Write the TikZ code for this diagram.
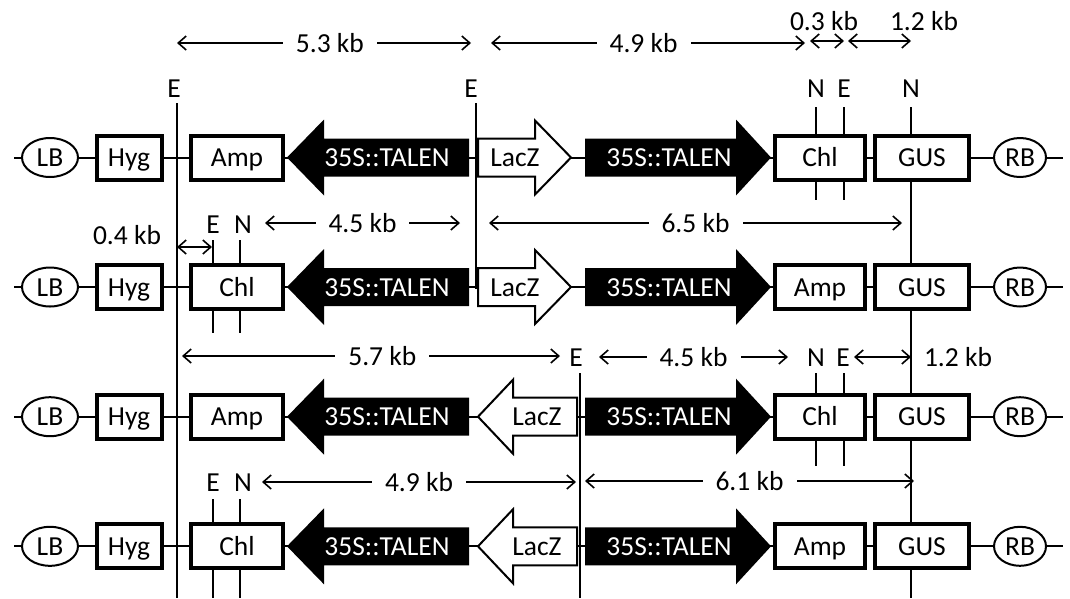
\documentclass[tikz,border=0pt]{standalone}
\usepackage{fontspec}
\setmainfont{Carlito}
\usetikzlibrary{shapes.geometric,arrows.meta}
\newcommand\DrawRow[4]{% #1 id, #2 y, #3 left box, #4 right box
  \coordinate (bbL#1) at (14,#2);
  \coordinate (bbR#1) at (1063,#2);
  \draw[backbone] (bbL#1) -- (bbR#1);
  \node[bord, minimum width=56pt] (lb#1) at (50,#2) {LB};
  \node[bord, minimum width=52pt] (rb#1) at (1020,#2) {RB};
  \node[gbox, minimum width=65pt] (hyg#1) at (129,#2) {Hyg};
  \node[gbox, minimum width=92pt] (lft#1) at (237,#2) {#3};
  \node[gbox, minimum width=90pt] (rgt#1) at (820,#2) {#4};
  \node[gbox, minimum width=94pt] (gus#1) at (922,#2) {GUS};
  \fill (287,#2) -- (324,#2-38) -- (324,#2-19) -- (469,#2-19) -- (469,#2+19)
        -- (324,#2+19) -- (324,#2+38) -- cycle;
  \node[text=white] (talL#1) at (387,#2) {35S::TALEN};
  \fill (585,#2-19) -- (736,#2-19) -- (736,#2-38) -- (771,#2) -- (736,#2+38)
        -- (736,#2+19) -- (585,#2+19) -- cycle;
  \node[text=white] (talR#1) at (669,#2) {35S::TALEN};
}
\newcommand\LacRight[2]{%
  \draw[wht] (478,#2-19) -- (535,#2-19) -- (535,#2-37) -- (571,#2) -- (535,#2+37)
        -- (535,#2+19) -- (478,#2+19) -- cycle;
  \node (lac#1) at (515,#2) {LacZ};
}
\newcommand\LacLeft[2]{%
  \draw[wht] (577,#2-19) -- (513,#2-19) -- (513,#2-37) -- (478,#2) -- (513,#2+37)
        -- (513,#2+19) -- (577,#2+19) -- cycle;
  \node (lac#1) at (537,#2) {LacZ};
}
\begin{document}
\begin{tikzpicture}[x=1pt,y=-1pt,
  every node/.style={font=\fontsize{27.5}{31}\selectfont, inner sep=0pt, text height=19pt, text depth=1pt},
  backbone/.style={line width=2pt},
  gbox/.style={draw, line width=4pt, fill=white, minimum height=44pt},
  bord/.style={draw, ellipse, line width=2pt, fill=white, minimum height=39pt},
  wht/.style={draw, fill=white, line width=2pt, line join=miter},
  dimarrow/.style={line width=1.6pt, {Straight Barb[length=8pt,width=14pt]}-{Straight Barb[length=8pt,width=14pt]}},
  gaplabel/.style={fill=white, inner xsep=13pt, inner ysep=2pt},
  vline/.style={line width=2.2pt},
]
\useasboundingbox (0,0) rectangle (1070,598);
\def\ya{157.5}\def\yb{287}\def\yc{416.7}\def\yd{546.3}

% vertical restriction-site lines
\coordinate (E1t) at (177,103); \coordinate (E1b) at (177,598);
\coordinate (E2t) at (476,103); \coordinate (E2b) at (476,289);
\coordinate (E3t) at (580,373); \coordinate (E3b) at (580,598);
\coordinate (Nt) at (911,107);  \coordinate (Nb) at (911,598);
\draw[vline] (E1t) -- (E1b);
\draw[vline] (E2t) -- (E2b);
\draw[vline] (E3t) -- (E3b);
\draw[vline] (Nt) -- (Nb);
% ticks
\foreach \x/\t/\b/\n in {816/107/200/a, 844/107/200/b, 213/240/333/c, 240/240/333/d,
                          816/373/466/e, 844/373/466/f, 213/499/598/g, 240/499/598/h}{
  \coordinate (tk\n t) at (\x,\t); \coordinate (tk\n b) at (\x,\b);
  \draw[vline] (tk\n t) -- (tk\n b);
}

% rows
\DrawRow{1}{\ya}{Amp}{Chl}
\LacRight{1}{\ya}
\DrawRow{2}{\yb}{Chl}{Amp}
\LacRight{2}{\yb}
\DrawRow{3}{\yc}{Amp}{Chl}
\LacLeft{3}{\yc}
\DrawRow{4}{\yd}{Chl}{Amp}
\LacLeft{4}{\yd}

% site labels
\node (sE1) at (174,88) {E};
\node (sE2) at (471,88) {E};
\node (sN1) at (816,88) {N};
\node (sE3) at (844,88) {E};
\node (sN2) at (911,88) {N};
\node (sE4) at (213,224) {E};
\node (sN3) at (243,224) {N};
\node (sE5) at (576,357) {E};
\node (sN4) at (816,357) {N};
\node (sE6) at (843,357) {E};
\node (sE7) at (213,482) {E};
\node (sN5) at (243,482) {N};

% dimension arrows, top
\coordinate (a1) at (177,43); \coordinate (a2) at (471,43);
\draw[dimarrow] (a1) -- node[gaplabel, pos=0.52] (l53) {5.3 kb} (a2);
\coordinate (a3) at (491,43); \coordinate (a4) at (805,43);
\draw[dimarrow] (a3) -- node[gaplabel, pos=0.486] (l49) {4.9 kb} (a4);
\coordinate (a5) at (810,41); \coordinate (a6) at (844,41);
\draw[dimarrow] (a5) -- (a6);
\node (l03) at (824,21) {0.3 kb};
\coordinate (a7) at (848,41); \coordinate (a8) at (911,41);
\draw[dimarrow] (a7) -- (a8);
\node (l12a) at (924,21) {1.2 kb};

% row 2 dims
\coordinate (b1) at (177,247); \coordinate (b2) at (212,247);
\draw[dimarrow] (b1) -- (b2);
\node (l04) at (127,235) {0.4 kb};
\coordinate (b3) at (265,223); \coordinate (b4) at (460,223);
\draw[dimarrow] (b3) -- node[gaplabel] (l45a) {4.5 kb} (b4);
\coordinate (b5) at (489,223); \coordinate (b6) at (902,223);
\draw[dimarrow] (b5) -- node[gaplabel] (l65) {6.5 kb} (b6);

% row 3 dims
\coordinate (c1) at (182,356); \coordinate (c2) at (560,356);
\draw[dimarrow] (c1) -- node[gaplabel, pos=0.53] (l57) {5.7 kb} (c2);
\coordinate (c3) at (599,357); \coordinate (c4) at (788,357);
\draw[dimarrow] (c3) -- node[gaplabel] (l45b) {4.5 kb} (c4);
\coordinate (c5) at (854,357); \coordinate (c6) at (911,357);
\draw[dimarrow] (c5) -- (c6);
\node (l12b) at (958,357) {1.2 kb};

% row 4 dims
\coordinate (d1) at (262,482); \coordinate (d2) at (576,482);
\draw[dimarrow] (d1) -- node[gaplabel] (l49b) {4.9 kb} (d2);
\coordinate (d3) at (585,481); \coordinate (d4) at (914,481);
\draw[dimarrow] (d3) -- node[gaplabel] (l61) {6.1 kb} (d4);
\end{tikzpicture}
\end{document}
